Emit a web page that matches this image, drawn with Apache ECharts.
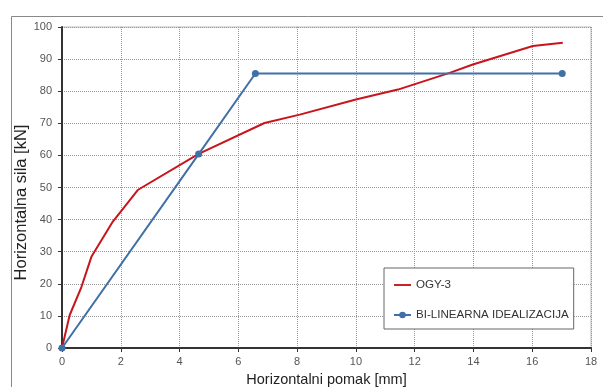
<!DOCTYPE html>
<html><head><meta charset="utf-8">
<script src="https://cdn.jsdelivr.net/npm/echarts@6/dist/echarts.min.js"></script>
<style>html,body{margin:0;padding:0;background:#fff}#c{width:603px;height:387px}</style>
</head><body><div id="c"></div>
<script>
const ogyX = [0, 0.26, 0.66, 1.0, 1.73, 2.59, 4.65, 6.89, 8.09, 10.0, 11.43, 13.19, 13.98, 16.02, 17.04];
const ogyY = [0, 10.2, 19.0, 28.4, 39.4, 49.3, 60.5, 70.1, 72.7, 77.4, 80.5, 85.7, 88.3, 94.1, 95.1];
const biX = [0, 4.65, 6.58, 17.02];
const biY = [0, 60.4, 85.5, 85.5];
const seriesNames = ['OGY-3', 'BI-LINEARNA IDEALIZACIJA'];
const xTitle = 'Horizontalni pomak [mm]';
const yTitle = 'Horizontalna sila [kN]';

const zip = (a, b) => a.map((v, i) => [v, b[i]]);
const chart = echarts.init(document.getElementById('c'), null, {renderer: 'canvas'});
const fontF = '"Liberation Sans", Arial, sans-serif';
const redC = '#c8141c', blueC = '#4070a6';
chart.setOption({
  animation: false,
  textStyle: {fontFamily: fontF},
  graphic: [{type: 'rect', left: 9, top: 14, shape: {width: 620, height: 400}, style: {fill: 'none', stroke: '#888', lineWidth: 1}, z: -1}],
  grid: {left: 62, top: 27, right: 12, bottom: 39, show: true, borderColor: '#bbb', borderWidth: 1, outerBoundsMode: 'none', containLabel: false},
  xAxis: {
    type: 'value', min: 0, max: 18, interval: 2,
    name: xTitle, nameLocation: 'middle', nameGap: 24,
    nameTextStyle: {fontSize: 14.5, color: '#222', fontFamily: fontF},
    axisLine: {show: true, lineStyle: {color: '#333', width: 2}},
    axisTick: {show: true, length: 4, lineStyle: {color: '#333'}},
    axisLabel: {fontSize: 11, color: '#555', margin: 8},
    splitLine: {show: true, lineStyle: {color: '#999', type: 'dotted', width: 1}}
  },
  yAxis: {
    type: 'value', min: 0, max: 100, interval: 10,
    name: yTitle, nameLocation: 'middle', nameGap: 32, nameMoveOverlap: false,
    nameTextStyle: {fontSize: 16.5, color: '#222', fontFamily: fontF, padding: [0, 30, 0, 0]},
    axisLine: {show: true, lineStyle: {color: '#333', width: 2}},
    axisTick: {show: true, length: 4, lineStyle: {color: '#333'}},
    axisLabel: {fontSize: 11, color: '#555', margin: 10},
    splitLine: {show: true, lineStyle: {color: '#999', type: 'dotted', width: 1}}
  },
  legend: {
    orient: 'vertical', left: 384, top: 268,
    backgroundColor: '#fff', borderColor: '#666', borderWidth: 1,
    padding: [11, 5, 8, 10], itemGap: 18, itemWidth: 17, itemHeight: 14,
    symbolKeepAspect: true,
    textStyle: {fontSize: 11.6, color: '#333', fontFamily: fontF},
    data: [
      {name: seriesNames[0], icon: 'path://M0,0h18v2h-18z'},
      {name: seriesNames[1], icon: 'path://M0,2.5h18v2h-18z M12.5,3.5a3.5,3.5 0 1 1 -7,0a3.5,3.5 0 1 1 7,0z'}
    ]
  },
  series: [
    {name: seriesNames[0], type: 'line', data: zip(ogyX, ogyY), showSymbol: false, symbol: 'none',
     lineStyle: {color: redC, width: 2}, itemStyle: {color: redC}},
    {name: seriesNames[1], type: 'line', data: zip(biX, biY), symbol: 'circle', symbolSize: 7,
     lineStyle: {color: blueC, width: 2}, itemStyle: {color: blueC}}
  ]
});
</script></body></html>
